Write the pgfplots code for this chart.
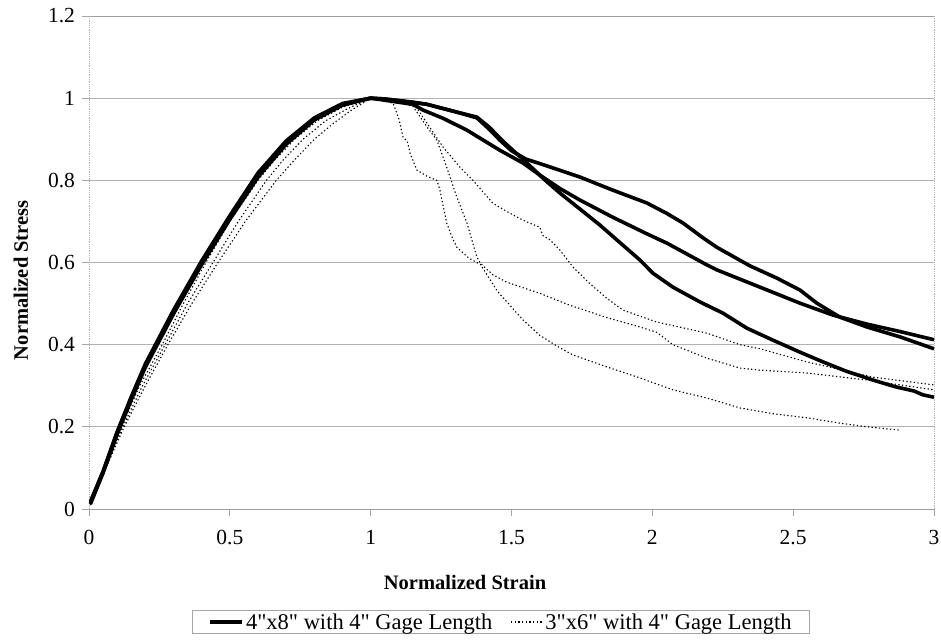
\documentclass[border=0pt]{standalone}
\usepackage{fontspec}
\setmainfont{Liberation Serif}[Ligatures=TeXOff]
\usepackage{pgfplots}
\pgfplotsset{compat=1.18}
\newcommand{\tf}{\fontsize{21.5bp}{24bp}\selectfont}
\newcommand{\gf}{\fontsize{22.5bp}{25bp}\selectfont}
\newcommand{\lf}{\bfseries\fontsize{20.5bp}{23bp}\selectfont}
\begin{document}
\begin{tikzpicture}
\begin{axis}[
  name=ax,
  scale only axis, width=845bp, height=493bp,
  xmin=0, xmax=3, ymin=0, ymax=1.2,
  xtick={0,0.5,1,1.5,2,2.5,3},
  ytick={0,0.2,0.4,0.6,0.8,1,1.2},
  /pgf/number format/assume math mode=true,
  ticklabel style={font=\tf},
  xtick pos=bottom, ytick pos=left,
  tick align=outside, major tick length=6.5bp,
  tick style={gray!70, line width=0.8bp},
  separate axis lines,
  x axis line style={gray!75, line width=0.8bp},
  y axis line style={gray!60, densely dotted, line width=0.8bp},
  ymajorgrids, major grid style={gray!60, line width=0.8bp},
  xlabel={Normalized Strain}, ylabel={Normalized Stress},
  label style={font=\lf},
  xlabel style={at={(axis description cs:0.445,-0.150)}, anchor=center},
  ylabel style={at={(axis description cs:-0.0805,0.464)}, anchor=center, rotate=0},
  xticklabel style={yshift=-11bp},
  yticklabel style={xshift=-4bp},
  legend columns=2,
  legend style={at={(0.4876,-0.2049)}, anchor=north, draw=gray!70, line width=0.8bp,
    font=\gf, inner xsep=16bp, inner ysep=1bp,
    /tikz/every even column/.append style={column sep=16bp}},
  legend image code/.code={\draw[#1] (0bp,0bp) -- (32bp,0bp);},
]
% ---- 4"x8" solid curves ----
\addplot[black, line width=3.6bp, line join=round] coordinates {
(0.005,0.015)(0.05,0.09)(0.1,0.185)(0.15,0.27)(0.2,0.35)(0.3,0.48)(0.4,0.60)(0.5,0.71)(0.6,0.815)(0.7,0.893)(0.8,0.95)(0.9,0.985)(1.0,1.0)
(1.05,0.998)(1.15,0.99)(1.2,0.985)(1.306,0.966)(1.377,0.954)(1.42,0.93)(1.47,0.895)(1.555,0.842)(1.62,0.80)(1.672,0.769)(1.743,0.73)(1.814,0.691)(1.874,0.655)(1.956,0.606)(2.002,0.574)(2.073,0.54)(2.169,0.504)(2.25,0.477)(2.336,0.44)(2.428,0.411)(2.53,0.38)(2.606,0.358)(2.69,0.335)(2.783,0.314)(2.86,0.298)(2.93,0.287)(2.96,0.278)(3.0,0.272)};
\addlegendentry{4"x8" with 4" Gage Length}
\addplot[black, line width=3.6bp, line join=round, forget plot] coordinates {
(0.005,0.012)(0.05,0.088)(0.1,0.182)(0.15,0.266)(0.2,0.345)(0.3,0.475)(0.4,0.595)(0.5,0.705)(0.6,0.808)(0.7,0.888)(0.8,0.947)(0.9,0.983)(1.0,1.0)
(1.05,0.995)(1.15,0.985)(1.186,0.971)(1.257,0.951)(1.342,0.922)(1.459,0.873)(1.541,0.842)(1.60,0.813)(1.672,0.78)(1.743,0.752)(1.86,0.71)(1.98,0.67)(2.052,0.647)(2.194,0.594)(2.229,0.582)(2.382,0.54)(2.524,0.501)(2.641,0.472)(2.762,0.45)(2.879,0.432)(3.0,0.412)};
\addplot[black, line width=3.6bp, line join=round, forget plot] coordinates {
(0.005,0.018)(0.05,0.092)(0.1,0.188)(0.15,0.273)(0.2,0.353)(0.3,0.484)(0.4,0.604)(0.5,0.714)(0.6,0.818)(0.7,0.896)(0.8,0.952)(0.9,0.987)(1.0,1.0)
(1.05,0.998)(1.15,0.99)(1.2,0.985)(1.306,0.966)(1.377,0.952)(1.42,0.925)(1.46,0.897)(1.5,0.872)(1.55,0.852)(1.626,0.835)(1.743,0.808)(1.86,0.776)(1.98,0.745)(2.05,0.72)(2.109,0.696)(2.18,0.66)(2.229,0.637)(2.346,0.592)(2.442,0.562)(2.524,0.533)(2.584,0.501)(2.666,0.467)(2.762,0.443)(2.879,0.419)(3.0,0.39)};
% ---- 3"x6" dotted curves ----
\addplot[black, line width=1.1bp, dash pattern=on 1.3bp off 2.4bp] coordinates {
(0.005,0.01)(0.055,0.1)(0.115,0.2)(0.18,0.3)(0.26,0.4)(0.335,0.5)(0.415,0.6)(0.50,0.7)(0.60,0.8)(0.66,0.85)(0.73,0.9)(0.81,0.945)(0.90,0.978)(1.0,1.0)
(1.05,0.995)(1.08,0.987)(1.1,0.95)(1.115,0.905)(1.13,0.895)(1.14,0.866)(1.164,0.825)(1.2,0.81)(1.235,0.80)(1.246,0.776)(1.27,0.696)(1.29,0.66)(1.306,0.637)(1.35,0.61)(1.39,0.595)(1.45,0.53)(1.541,0.46)(1.60,0.423)(1.66,0.397)(1.718,0.375)(1.838,0.346)(1.956,0.319)(2.073,0.29)(2.194,0.27)(2.311,0.246)(2.428,0.232)(2.549,0.222)(2.666,0.209)(2.762,0.20)(2.879,0.192)};
\addlegendentry{3"x6" with 4" Gage Length}
\addplot[black, line width=1.1bp, dash pattern=on 1.3bp off 2.4bp, forget plot] coordinates {
(0.005,0.01)(0.057,0.1)(0.12,0.2)(0.19,0.3)(0.27,0.4)(0.35,0.5)(0.44,0.6)(0.53,0.7)(0.63,0.8)(0.69,0.85)(0.76,0.9)(0.84,0.945)(0.92,0.975)(1.0,1.0)
(1.1,0.99)(1.15,0.98)(1.2,0.93)(1.235,0.898)(1.27,0.832)(1.306,0.759)(1.342,0.696)(1.377,0.613)(1.39,0.598)(1.434,0.57)(1.483,0.552)(1.60,0.525)(1.707,0.496)(1.838,0.466)(1.956,0.443)(2.016,0.43)(2.073,0.40)(2.194,0.367)(2.311,0.343)(2.382,0.338)(2.549,0.331)(2.762,0.314)(3.0,0.29)};
\addplot[black, line width=1.1bp, dash pattern=on 1.3bp off 2.4bp, forget plot] coordinates {
(0.005,0.01)(0.06,0.1)(0.125,0.2)(0.2,0.3)(0.28,0.4)(0.365,0.5)(0.458,0.6)(0.555,0.7)(0.665,0.8)(0.73,0.85)(0.80,0.9)(0.87,0.94)(0.93,0.97)(1.0,1.0)
(1.1,0.995)(1.16,0.98)(1.20,0.939)(1.257,0.881)(1.317,0.832)(1.363,0.80)(1.434,0.744)(1.494,0.72)(1.55,0.70)(1.60,0.686)(1.612,0.665)(1.637,0.655)(1.672,0.63)(1.718,0.589)(1.776,0.55)(1.838,0.513)(1.896,0.484)(2.016,0.455)(2.194,0.428)(2.311,0.40)(2.382,0.39)(2.549,0.358)(2.783,0.321)(3.0,0.302)};
\end{axis}
\pgfresetboundingbox
\path[use as bounding box] ([shift={(-89bp,-134bp)}]ax.south west) rectangle ([shift={(7bp,16bp)}]ax.north east);
\end{tikzpicture}
\end{document}
